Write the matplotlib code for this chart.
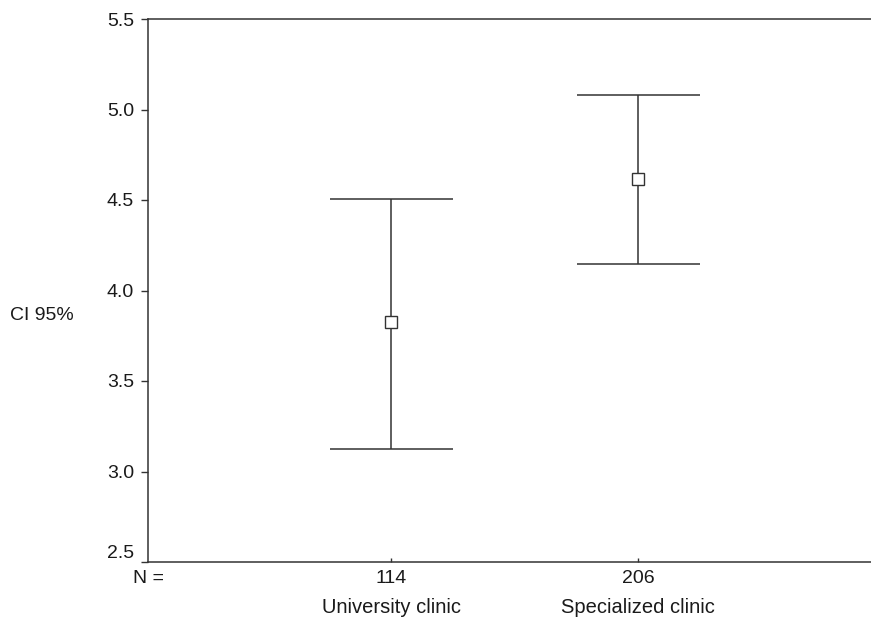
import numpy as np
import matplotlib.pyplot as plt
from matplotlib.transforms import blended_transform_factory

plt.rcParams['font.family'] = ['Liberation Sans', 'DejaVu Sans']

groups = ["University clinic", "Specialized clinic"]
n_counts = ["114", "206"]
means = [3.826, 4.616]
ci_low = [3.124, 4.146]
ci_high = [4.506, 5.080]

x = np.arange(1, len(groups) + 1)
means = np.array(means)
lower_err = means - np.array(ci_low)
upper_err = np.array(ci_high) - means

fig = plt.figure(figsize=(8.71, 6.19), dpi=100)
ax = fig.add_axes([148/871, 1 - 562/619, 1 - 148/871, (562 - 19)/619])

col = '#333333'
txt = '#1a1a1a'
fs = 14

ax.errorbar(x, means, yerr=[lower_err, upper_err], fmt='none', ecolor=col,
            elinewidth=1.1, capsize=61.5 * 0.72, capthick=1.1, zorder=2)
ax.plot(x, means, linestyle='none', marker='s', markersize=9,
        markerfacecolor='white', markeredgecolor=col, markeredgewidth=1.0, zorder=3)

yt = [2.5, 3.0, 3.5, 4.0, 4.5, 5.0, 5.5]
ax.set_xlim(0.016, 2.943)
ax.set_ylim(2.5, 5.5)
ax.set_yticks(yt)
ax.set_yticklabels(["%.1f" % v for v in yt])
ax.set_xticks(x)
ax.set_xticklabels(n_counts)

ax.tick_params(axis='y', direction='out', length=5, width=1.0, color=col,
               labelsize=fs, pad=5, labelcolor=txt)
ax.tick_params(axis='x', direction='in', length=3, width=1.0, color=col,
               labelsize=fs, pad=6, labelcolor=txt)

# lowest label sits just above the x axis line
ax.get_yticklabels()[0].set_verticalalignment('bottom')

for s in ['left', 'top', 'bottom']:
    ax.spines[s].set_color(col)
    ax.spines[s].set_linewidth(1.1)
ax.spines['right'].set_visible(False)

trans = blended_transform_factory(ax.transData, ax.transAxes)
for xi, name in zip(x, groups):
    ax.text(xi, -0.0847, name, transform=trans, ha='center', va='center',
            fontsize=14.5, color=txt)

ax.text(0.0, -0.0305, "N =", transform=ax.transAxes, ha='center', va='center',
        fontsize=fs, color=txt)
fig.text(10/871, 1 - 315/619, "CI 95%", ha='left', va='center', fontsize=fs,
         color=txt)

fig.savefig("out.png", dpi=100)
